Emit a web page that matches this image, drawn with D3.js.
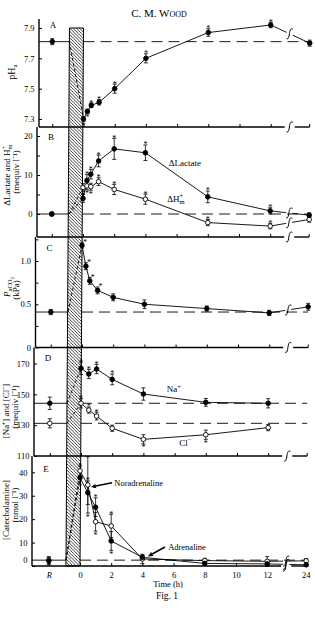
<!DOCTYPE html>
<html><head><meta charset="utf-8">
<script src="https://cdn.jsdelivr.net/npm/d3@7/dist/d3.min.js"></script>
<style>html,body{margin:0;padding:0;background:#fff}svg{display:block}text{fill:#000}</style>
</head><body><svg id="chart" width="315" height="637"></svg>
<script>
// ---------------- data ----------------
const exercise = [-0.9, 0];               // exhaustive exercise period (h) - hatched bar

const timesA  = ["R",0,0.25,0.5,1,2,4,8,12,24];
const pHa     = [7.81,7.30,7.35,7.39,7.41,7.50,7.70,7.87,7.92,7.80];
const pHaSE   = [0.02,0.015,0.015,0.015,0.018,0.03,0.03,0.025,0.018,0.02];
const pHaSig  = [0,-1,-1,1,1,1,1,1,1,0];
const pHaControl = 7.81;

const timesB     = ["R",0,0.25,0.5,1,2,4,8,12,24];
const lactate    = [0,4.0,8.6,10.2,13.6,16.7,15.7,4.4,0.8,-0.3];
const lactateSE  = [0.4,1.0,1.5,1.2,1.5,2.7,2.0,1.5,0.8,0.6];
const lactateSig = [0,0,1,1,1,1,1,1,1,0];
const hPlus      = [0,6.8,7.2,7.0,8.3,6.3,3.8,-2.2,-3.1,-1.4];
const hPlusSE    = [0.4,1.0,1.0,0.9,1.0,1.3,1.3,0.8,0.7,0.7];
const hPlusSig   = [0,-1,-1,-1,1,1,1,1,1,0];
const deltaControl = 0;

const timesC   = ["R",0,0.25,0.5,1,2,4,8,12,24];
const paCO2    = [0.41,1.18,0.94,0.77,0.66,0.58,0.50,0.45,0.40,0.47];
const paCO2SE  = [0.03,0.03,0.04,0.04,0.04,0.04,0.05,0.03,0.03,0.04];
const paCO2Sig = [0,1,1,1,1,0,0,0,0,0];
const paCO2Control = 0.41;

const timesD      = ["R",0,0.5,1,2,4,8,12];
const sodium      = [144.2,166.9,163.2,166.4,159.7,150.2,144.8,144.2];
const sodiumSE    = [4,4,3,3,3.5,4,2.5,3];
const sodiumSig   = [0,1,1,1,1,0,0,0];
const chloride    = [131.2,144.2,139.8,135.9,128.0,120.8,123.8,128.4];
const chlorideSE  = [3,3,2,2.5,2,3,3,2];
const chlorideSig = [0,1,1,1,0,-1,-1,0];
const sodiumControl = 144.2, chlorideControl = 131.2;

const timesE           = ["R",0,0.5,1,2,4,8,12,24];
const noradrenaline    = [2.5,40.6,34.6,18.9,17.1,3.0,2.3,2.0,2.2];
const noradrenalineSE  = [1.5,2,12,4,5,2,1,2,1];
const noradrenalineSig = [0,1,-1,-1,1,0,0,0,0];
const adrenaline       = [2.2,37.7,31.3,25.1,10.7,3.7,1.1,0.9,0.5];
const adrenalineSE     = [1.5,3,5,4,4,1,0.7,1,0.7];
const adrenalineSig    = [0,0,1,1,-1,0,0,0,0];
const catControl = 2.5;

const xTickHours  = [-2,0,2,4,6,8,10,12];
const xTickLabels = ["R","0","2","4","6","8","10","12"];
const lastLabel   = "24";

// ---------------- layout ----------------
const svg = d3.select("#chart").attr("font-family","'Liberation Serif','Times New Roman',serif").attr("fill","#000");
const PXH = 15.6;
const panels = [
  {key:"A", top:19,    bottom:127,   axisX:39,   t0:83.5, y:d3.scaleLinear().domain([7.3,7.9]).range([119,28]),   ticks:[7.3,7.5,7.7,7.9], fmt:d=>d.toFixed(1), letterY:28,    starDx:0},
  {key:"B", top:127,   bottom:237,   axisX:37,   t0:83,   y:d3.scaleLinear().domain([0,20]).range([214,136]),      ticks:[0,5,10,15,20], fmt:d=>d%10===0?String(d):"", letterY:140, starDx:0},
  {key:"C", top:237,   bottom:347.5, axisX:35.5, t0:82,   y:d3.scaleLinear().domain([0,1]).range([347.5,261]),     ticks:[0,0.25,0.5,0.75,1,1.25], fmt:d=>d===0?"0":(d===0.5||d===1)?d.toFixed(1):"", letterY:250.5, starDx:3},
  {key:"D", top:347.5, bottom:456,   axisX:34,   t0:81,   y:d3.scaleLinear().domain([110,170]).range([456,363.5]), ticks:[110,130,150,170], fmt:String, letterY:360.5, starDx:0},
  {key:"E", top:456,   bottom:566,   axisX:32,   t0:80,   y:d3.scaleLinear().domain([0,40]).range([566,472.3]),    ticks:[0,10,20,30,40], fmt:String, letterY:471.5, starDx:0}
];
panels.forEach(p => {
  p.x = d3.scaleLinear().domain([0,12]).range([p.t0, p.t0 + 12*PXH]);
  p.pos = t => t==="R" ? p.x(-2) : (t===24 ? p.x(12)+39 : p.x(t));
  p.brk = p.x(12) + 19;
});
const [pA,pB,pC,pD,pE] = panels;

function integral(cx, cy){
  return `M${cx-3.2},${cy+4.6} C${cx-1.8},${cy+6} ${cx-0.8},${cy+4} ${cx-0.3},${cy} S${cx+1.2},${cy-6} ${cx+3.2},${cy-4.6}`;
}

// title
svg.append("text").attr("x",159).attr("y",17).attr("text-anchor","middle")
  .attr("font-size",11).style("font-variant","small-caps").text("C. M. Wood");

// hatch pattern + exercise bar
const defs = svg.append("defs");
const pat = defs.append("pattern").attr("id","hatch").attr("patternUnits","userSpaceOnUse").attr("width",3.2).attr("height",3.2);
pat.append("rect").attr("width",3.2).attr("height",3.2).attr("fill","#fff");
pat.append("path").attr("d","M0,0L3.2,3.2M-0.8,2.4L0.8,4M2.4,-0.8L4,0.8").attr("stroke","#000").attr("stroke-width",0.75);
svg.append("path")
  .attr("d",`M${pA.x(exercise[0])},${pA.y(7.9)}L${pA.x(exercise[1])},${pA.y(7.9)}L${pE.x(exercise[1])},${pE.bottom}L${pE.x(exercise[0])},${pE.bottom}Z`)
  .attr("fill","url(#hatch)").attr("stroke","#000").attr("stroke-width",1);

// axes
panels.forEach(p => {
  const g = svg.append("g");
  const ln = (x1,y1,x2,y2,w) => g.append("line").attr("x1",x1).attr("y1",y1).attr("x2",x2).attr("y2",y2).attr("stroke","#000").attr("stroke-width",w);
  ln(p.axisX,p.top,p.axisX,p.bottom,1.4);
  ln(p.axisX,p.bottom,p.brk-5,p.bottom,1.4);
  ln(p.brk+5,p.bottom,p.pos(24),p.bottom,1.4);
  ln(p.pos(24),p.bottom,p.pos(24),p.bottom-3,1);
  g.append("path").attr("d",integral(p.brk,p.bottom)).attr("fill","none").attr("stroke","#000").attr("stroke-width",1);
  const isE = p.key==="E";
  const xa = d3.axisBottom(p.x).tickValues(xTickHours).tickSize(-3).tickPadding(6)
    .tickFormat((d,i) => isE ? xTickLabels[i] : "");
  const gx = g.append("g").attr("transform",`translate(0,${p.bottom})`).call(xa);
  gx.select(".domain").remove();
  gx.attr("font-family",null).attr("font-size",null).attr("fill",null);
  gx.selectAll("text").attr("font-size",8.5).attr("fill","#000")
    .style("font-style",d=>d===-2?"italic":null);
  const ya = d3.axisLeft(p.y).tickValues(p.ticks).tickSize(-3).tickPadding(4.5).tickFormat(p.fmt);
  const gy = g.append("g").attr("transform",`translate(${p.axisX},0)`).call(ya);
  gy.select(".domain").remove();
  gy.attr("font-family",null).attr("font-size",null).attr("fill",null);
  gy.selectAll("text").attr("font-size",8.5).attr("fill","#000");
  if (isE) gy.selectAll("text").filter(d=>d===0).attr("dy","-0.38em");
  g.append("text").attr("x",p.axisX+14).attr("y",p.letterY).attr("text-anchor","middle").attr("font-size",9).text(p.key);
});
// 24 h label
svg.append("text").attr("x",pE.pos(24)).attr("y",pE.bottom+12).attr("text-anchor","middle").attr("font-size",8.5).text(lastLabel);

// data layers
const gLines = svg.append("g"), gBars = svg.append("g"), gMarks = svg.append("g");
function control(p, c){
  const y = p.y(c);
  gLines.append("line").attr("x1",p.axisX).attr("x2",p.x(exercise[0])).attr("y1",y).attr("y2",y).attr("stroke","#000").attr("stroke-width",0.9);
  gLines.append("line").attr("x1",p.x(exercise[1])).attr("x2",p.pos(24)).attr("y1",y).attr("y2",y)
    .attr("stroke","#000").attr("stroke-width",0.9).attr("stroke-dasharray","11,6");
}
function series(p, times, vals, se, sig, filled, ctrl){
  const pts = times.map((t,i)=>({t, v:vals[i], s:se[i], g:sig[i], x:p.pos(t), y:p.y(vals[i])}));
  const first = pts.find(d=>d.t===0);
  gLines.append("line").attr("x1",p.x(exercise[0])).attr("y1",p.y(ctrl)).attr("x2",first.x).attr("y2",first.y)
    .attr("stroke","#000").attr("stroke-width",0.9).attr("stroke-dasharray","3,2.5");
  const main = pts.filter(d=>d.t!=="R" && d.t!==24);
  gLines.append("path").attr("d",d3.line().x(d=>d.x).y(d=>d.y)(main)).attr("fill","none").attr("stroke","#000").attr("stroke-width",0.9);
  const last = pts.find(d=>d.t===24);
  if (last){
    const a = main[main.length-1];
    const yAt = x => a.y + (last.y-a.y)*(x-a.x)/(last.x-a.x);
    gLines.append("path").attr("d",`M${a.x},${a.y}L${p.brk-3},${yAt(p.brk-3)}M${p.brk+3},${yAt(p.brk+3)}L${last.x},${last.y}`)
      .attr("fill","none").attr("stroke","#000").attr("stroke-width",0.9);
    gLines.append("path").attr("d",integral(p.brk,yAt(p.brk))).attr("fill","none").attr("stroke","#000").attr("stroke-width",1);
  }
  pts.forEach(d=>{
    const y1 = p.y(d.v-d.s), y2 = p.y(d.v+d.s);
    gBars.append("path").attr("d",`M${d.x},${y1}V${y2}M${d.x-2},${y1}h4M${d.x-2},${y2}h4`)
      .attr("fill","none").attr("stroke","#000").attr("stroke-width",0.8);
    if (d.g){
      gBars.append("text").attr("x",d.x+p.starDx).attr("y", d.g>0 ? y2+2.5 : y1+6.5)
        .attr("text-anchor","middle").attr("font-size",8).attr("fill","#000").text("*");
    }
  });
  gMarks.selectAll(null).data(pts).join("circle")
    .attr("cx",d=>d.x).attr("cy",d=>d.y).attr("r",2.3)
    .attr("fill",filled?"#000":"#fff").attr("stroke","#000").attr("stroke-width",0.9);
}

control(pA,pHaControl);
series(pA,timesA,pHa,pHaSE,pHaSig,true,pHaControl);
control(pB,deltaControl);
series(pB,timesB,hPlus,hPlusSE,hPlusSig,false,deltaControl);
series(pB,timesB,lactate,lactateSE,lactateSig,true,deltaControl);
control(pC,paCO2Control);
series(pC,timesC,paCO2,paCO2SE,paCO2Sig,true,paCO2Control);
control(pD,sodiumControl); control(pD,chlorideControl);
series(pD,timesD,chloride,chlorideSE,chlorideSig,false,chlorideControl);
series(pD,timesD,sodium,sodiumSE,sodiumSig,true,sodiumControl);
control(pE,catControl);
series(pE,timesE,noradrenaline,noradrenalineSE,noradrenalineSig,false,catControl);
series(pE,timesE,adrenaline,adrenalineSE,adrenalineSig,true,catControl);

// series labels
const lab = (x,y,fs) => svg.append("text").attr("x",x).attr("y",y).attr("font-size",fs).attr("fill","#000");
lab(pB.x(5.5),pB.y(12.3),9).text("ΔLactate");
{ const t = lab(pB.x(5.4),pB.y(3.1),9); t.append("tspan").text("ΔH");
  t.append("tspan").attr("font-size",6.5).attr("dy",-3.5).text("+");
  t.append("tspan").attr("font-size",6.5).attr("dx",-3.6).attr("dy",6).text("m"); }
{ const t = lab(pD.x(5.5),pD.y(151.5),9); t.append("tspan").text("Na");
  t.append("tspan").attr("font-size",6.5).attr("dy",-3.5).text("+"); }
{ const t = lab(pD.x(6.3),pD.y(116.5),9); t.append("tspan").text("Cl");
  t.append("tspan").attr("font-size",6.5).attr("dy",-3.5).text("−"); }

function arrow(x1,y1,x2,y2){
  const a = Math.atan2(y2-y1,x2-x1), L=5, W=2.2;
  const bx = x2 - L*Math.cos(a), by = y2 - L*Math.sin(a);
  svg.append("line").attr("x1",x1).attr("y1",y1).attr("x2",bx).attr("y2",by).attr("stroke","#000").attr("stroke-width",1.5);
  svg.append("path").attr("d",`M${x2},${y2}L${bx+W*Math.sin(a)},${by-W*Math.cos(a)}L${bx-W*Math.sin(a)},${by+W*Math.cos(a)}Z`).attr("fill","#000");
}
arrow(pE.x(2.05),pE.y(35.5),pE.x(0.7),pE.y(33.7));
lab(pE.x(2.2),pE.y(34.2),8.5).text("Noradrenaline");
arrow(pE.x(5.45),pE.y(8.1),pE.x(4.35),pE.y(4.1));
lab(pE.x(5.65),pE.y(6.8),8.5).text("Adrenaline");

// axis titles
function rot(x,cy,fs){ return svg.append("text").attr("transform",`translate(${x},${cy}) rotate(-90)`).attr("text-anchor","middle").attr("font-size",fs).attr("fill","#000"); }
{ const t = rot(15,72,10); t.append("tspan").text("pH"); t.append("tspan").attr("font-size",7).attr("dy",2).text("a"); }
{ const t = rot(9.5,175,9); t.append("tspan").text("ΔLactate and H");
  t.append("tspan").attr("font-size",6.5).attr("dy",-3.5).text("+");
  t.append("tspan").attr("font-size",6.5).attr("dx",-3.6).attr("dy",6).text("m"); }
rot(18.5,172,9).text("(mequiv l⁻¹)");
{ const t = rot(9.5,287,9); t.append("tspan").style("font-style","italic").text("P");
  t.append("tspan").attr("font-size",6.5).attr("dy",2.5).text("aCO");
  t.append("tspan").attr("font-size",5).attr("dy",1.5).text("2"); }
rot(18.5,290,9).text("(kPa)");
rot(9,411,9).text("[Na⁺] and [Cl⁻]");
rot(18,407,9).text("(mequiv l⁻¹)");
rot(9,510,9).text("[Catecholamine]");
rot(18,505,9).text("(nmol l⁻¹)");

svg.append("text").attr("x",168).attr("y",587).attr("text-anchor","middle").attr("font-size",8.5).attr("fill","#000").text("Time (h)");
svg.append("text").attr("x",167).attr("y",599).attr("text-anchor","middle").attr("font-size",9.5).attr("fill","#000").text("Fig. 1");
</script></body></html>
